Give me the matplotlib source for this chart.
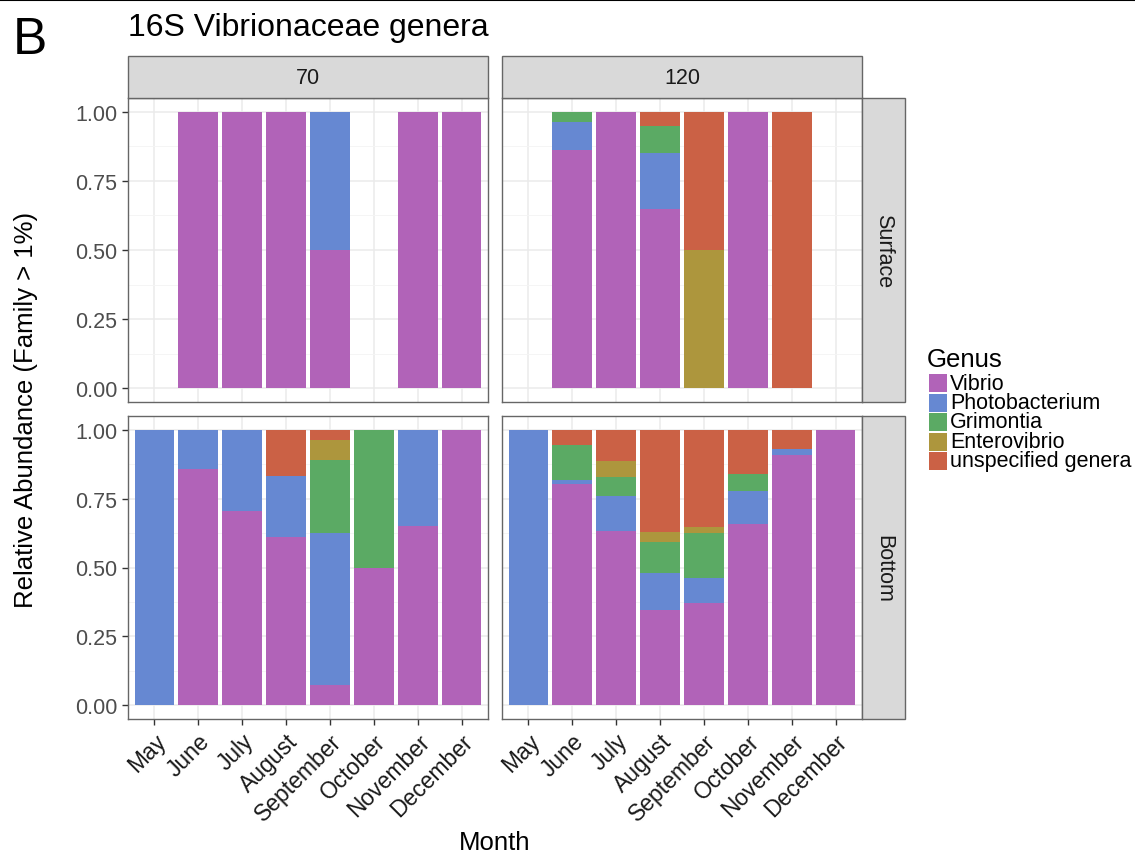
import numpy as np
import matplotlib
matplotlib.use("Agg")
import matplotlib.pyplot as plt
from matplotlib.patches import Rectangle

plt.rcParams['font.family'] = ['Liberation Sans', 'DejaVu Sans']

months = ['May', 'June', 'July', 'August', 'September', 'October', 'November', 'December']
genera = ['Vibrio', 'Photobacterium', 'Grimontia', 'Enterovibrio', 'unspecified genera']
colors = ['#B163B8', '#6688D2', '#5BAA64', '#AD963D', '#CB6145']
depths = ['70', '120']
layers = ['Surface', 'Bottom']

# rows follow genera order, columns follow months
surface_70 = [
    [0, 1, 1, 1, 0.5, 0, 1, 1],
    [0, 0, 0, 0, 0.5, 0, 0, 0],
    [0, 0, 0, 0, 0, 0, 0, 0],
    [0, 0, 0, 0, 0, 0, 0, 0],
    [0, 0, 0, 0, 0, 0, 0, 0],
]
surface_120 = [
    [0, 0.861, 1, 0.65, 0, 1, 0, 0],
    [0, 0.102, 0, 0.20, 0, 0, 0, 0],
    [0, 0.037, 0, 0.098, 0, 0, 0, 0],
    [0, 0, 0, 0, 0.5, 0, 0, 0],
    [0, 0, 0, 0.052, 0.5, 0, 1, 0],
]
bottom_70 = [
    [0, 0.857, 0.704, 0.611, 0.073, 0.50, 0.65, 1],
    [1, 0.143, 0.296, 0.222, 0.553, 0, 0.35, 0],
    [0, 0, 0, 0, 0.266, 0.50, 0, 0],
    [0, 0, 0, 0, 0.071, 0, 0, 0],
    [0, 0, 0, 0.167, 0.037, 0, 0, 0],
]
bottom_120 = [
    [0, 0.803, 0.634, 0.347, 0.372, 0.658, 0.91, 1],
    [1, 0.014, 0.125, 0.132, 0.089, 0.118, 0.021, 0],
    [0, 0.128, 0.069, 0.114, 0.165, 0.064, 0, 0],
    [0, 0, 0.059, 0.036, 0.020, 0, 0, 0],
    [0, 0.055, 0.113, 0.371, 0.354, 0.16, 0.069, 0],
]
panels = {('Surface', '70'): surface_70, ('Surface', '120'): surface_120,
          ('Bottom', '70'): bottom_70, ('Bottom', '120'): bottom_120}

W, H = 1135, 854
fig = plt.figure(figsize=(W / 100, H / 100), dpi=100)

def fx(px):
    return px / W

def fy(py):
    return 1 - py / H

col_x = [(128, 488), (502, 862)]
row_y = [(99, 403), (417, 720)]
border = '#666666'
tick_col = '#4D4D4D'
fs_tick = 15.5

x = np.arange(len(months))
for r, layer in enumerate(layers):
    for c, depth in enumerate(depths):
        x0, x1 = col_x[c]
        y0, y1 = row_y[r]
        ax = fig.add_axes([fx(x0), fy(y1), fx(x1) - fx(x0), fy(y0) - fy(y1)])
        vals = np.array(panels[(layer, depth)], dtype=float)
        bottom = np.zeros(len(months))
        for g in range(len(genera)):
            h = vals[g]
            mask = h > 0
            ax.bar(x[mask], h[mask], 0.9, bottom=bottom[mask], color=colors[g],
                   linewidth=0, zorder=3)
            bottom += h
        ax.set_xlim(-0.6, 7.6)
        ax.set_ylim(-0.05, 1.05)
        ax.set_yticks([0, 0.25, 0.5, 0.75, 1.0])
        ax.set_yticks([0.125, 0.375, 0.625, 0.875], minor=True)
        ax.set_xticks(x)
        ax.grid(True, which='major', color='#EBEBEB', lw=1.1, zorder=0)
        ax.grid(True, which='minor', axis='y', color='#F4F4F4', lw=0.6, zorder=0)
        ax.set_axisbelow(True)
        for s in ax.spines.values():
            s.set_color(border)
            s.set_linewidth(1.0)
        ax.tick_params(which='major', length=4, color='#333333', width=1,
                       labelsize=fs_tick, labelcolor=tick_col)
        ax.tick_params(which='minor', length=0)
        if c == 0:
            ax.set_yticklabels(['0.00', '0.25', '0.50', '0.75', '1.00'])
        else:
            ax.tick_params(axis='y', which='both', left=False, labelleft=False)
        if r == 1:
            ax.set_xticklabels(months, rotation=45, ha='right', va='top',
                               rotation_mode='anchor', fontsize=16.5, color='#1A1A1A')
        else:
            ax.tick_params(axis='x', bottom=False, labelbottom=False)

        # top strips
        if r == 0:
            fig.patches.append(Rectangle((fx(x0), fy(99)), fx(x1) - fx(x0), fy(57) - fy(99),
                                         transform=fig.transFigure, facecolor='#D9D9D9',
                                         edgecolor=border, lw=1.0))
            fig.text(fx((x0 + x1) / 2), fy(78), depth, ha='center', va='center',
                     fontsize=fs_tick, color='#1A1A1A')
        # right strips
        if c == 1:
            fig.patches.append(Rectangle((fx(862), fy(y1)), fx(905) - fx(862), fy(y0) - fy(y1),
                                         transform=fig.transFigure, facecolor='#D9D9D9',
                                         edgecolor=border, lw=1.0))
            fig.text(fx(883.5), fy((y0 + y1) / 2), layer, ha='center', va='center',
                     rotation=-90, fontsize=fs_tick, color='#1A1A1A')

# titles and axis labels
fig.text(fx(128), fy(28), '16S Vibrionaceae genera', ha='left', va='center',
         fontsize=23, color='#000000')
fig.text(fx(13), fy(40), 'B', ha='left', va='center', fontsize=37, color='#000000')
fig.text(fx(495), fy(843), 'Month', ha='center', va='center', fontsize=18.5)
fig.text(fx(26), fy(410), 'Relative Abundance (Family > 1%)', ha='center', va='center',
         rotation=90, fontsize=18.5)
fig.add_artist(plt.Line2D([0, 1], [fy(1), fy(1)], transform=fig.transFigure,
                          color='black', lw=1.5))

# legend
fig.text(fx(927), fy(360), 'Genus', ha='left', va='center', fontsize=18.5)
for i, (g, col) in enumerate(zip(genera, colors)):
    yc = 384 + i * 19.5
    fig.patches.append(Rectangle((fx(929), fy(yc + 9)), fx(18), fy(0) - fy(18),
                                 transform=fig.transFigure, facecolor=col, edgecolor='none'))
    fig.text(fx(950), fy(yc), g, ha='left', va='center', fontsize=fs_tick)

fig.savefig('out.png', dpi=100)
